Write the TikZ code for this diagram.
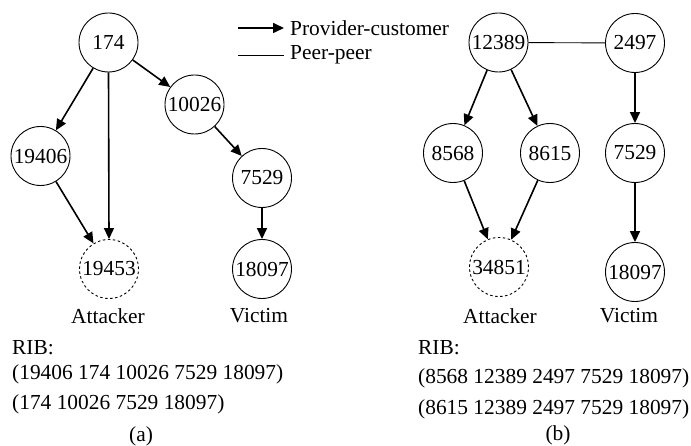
\documentclass[tikz,border=0pt]{standalone}
\usepackage{fontspec}
\setmainfont{Liberation Serif}
\usepackage{tikz}
\usetikzlibrary{arrows.meta}

\tikzset{
  asnode/.style={circle, draw, line width=0.9pt, minimum size=59pt, inner sep=0pt},
  attnode/.style={asnode, dash pattern=on 2.5pt off 2.5pt},
  pc/.style={line width=1.6pt, -{Triangle[length=11pt,width=10pt]}},
  pp/.style={line width=0.9pt},
  txt/.style={inner sep=0pt, anchor=west},
}

\begin{document}
\begin{tikzpicture}[x=1pt, y=-1pt, font=\fontsize{21.4}{25}\selectfont]
\useasboundingbox (0,0) rectangle (691,446);
				% (a)
				\node[asnode] (a174) at (108.5,42.5) {174};
				\node[asnode] (a19406) at (40.5,156) {19406};
				\node[asnode] (a10026) at (194.5,104.5) {10026};
				\node[asnode] (a7529) at (262,178) {7529};
				\node[asnode] (a18097) at (262,269) {18097};
				\node[attnode] (a19453) at (109,269) {19453};
				\node (aatt) at (108,316) {Attacker};
				\node (avic) at (259,316) {Victim};
				\draw[pc] (a174) -- (a19406);
				\draw[pc] (a174.south) -- (a19453.north);
				\draw[pc] (a174) -- (a10026);
				\draw[pc] (a10026) -- (a7529);
				\draw[pc] (a7529) -- (a18097);
				\draw[pc] (a19406) -- (a19453);
				\node[txt] (arib) at (12,348) {RIB:};
				\node[txt] (arib1) at (12,374) {(19406 174 10026 7529 18097)};
				\node[txt] (arib2) at (12,404) {(174 10026 7529 18097)};
				\node (acap) at (141,436) {(a)};
				% legend
				\coordinate (l1a) at (238,28);
				\coordinate (l1b) at (284,28);
				\coordinate (l2a) at (238,55);
				\coordinate (l2b) at (284,55);
				\draw[pc] (l1a) -- (l1b);
				\draw[pp] (l2a) -- (l2b);
				\node[txt] (lpc) at (290,28) {Provider-customer};
				\node[txt] (lpp) at (290,55) {Peer-peer};
				% (b)
				\node[asnode] (b12389) at (498.5,42.5) {12389};
				\node[asnode] (b2497) at (635,43) {2497};
				\node[asnode] (b8568) at (453,153) {8568};
				\node[asnode] (b8615) at (550,153) {8615};
				\node[asnode] (b7529) at (635,153) {7529};
				\node[asnode] (b18097) at (635,272) {18097};
				\node[attnode] (b34851) at (499,267) {34851};
				\node (batt) at (500,316) {Attacker};
				\node (bvic) at (629,316) {Victim};
				\draw[pp] (b12389) -- (b2497);
				\draw[pc] (b12389) -- (b8568);
				\draw[pc] (b12389) -- (b8615);
				\draw[pc] (b2497) -- (b7529);
				\draw[pc] (b8568) -- (b34851);
				\draw[pc] (b8615) -- (b34851);
				\draw[pc] (b7529) -- (b18097);
				\node[txt] (brib) at (418,348) {RIB:};
				\node[txt] (brib1) at (418,378) {(8568 12389 2497 7529 18097)};
				\node[txt] (brib2) at (418,409) {(8615 12389 2497 7529 18097)};
				\node (bcap) at (558,435) {(b)};
\end{tikzpicture}
\end{document}
